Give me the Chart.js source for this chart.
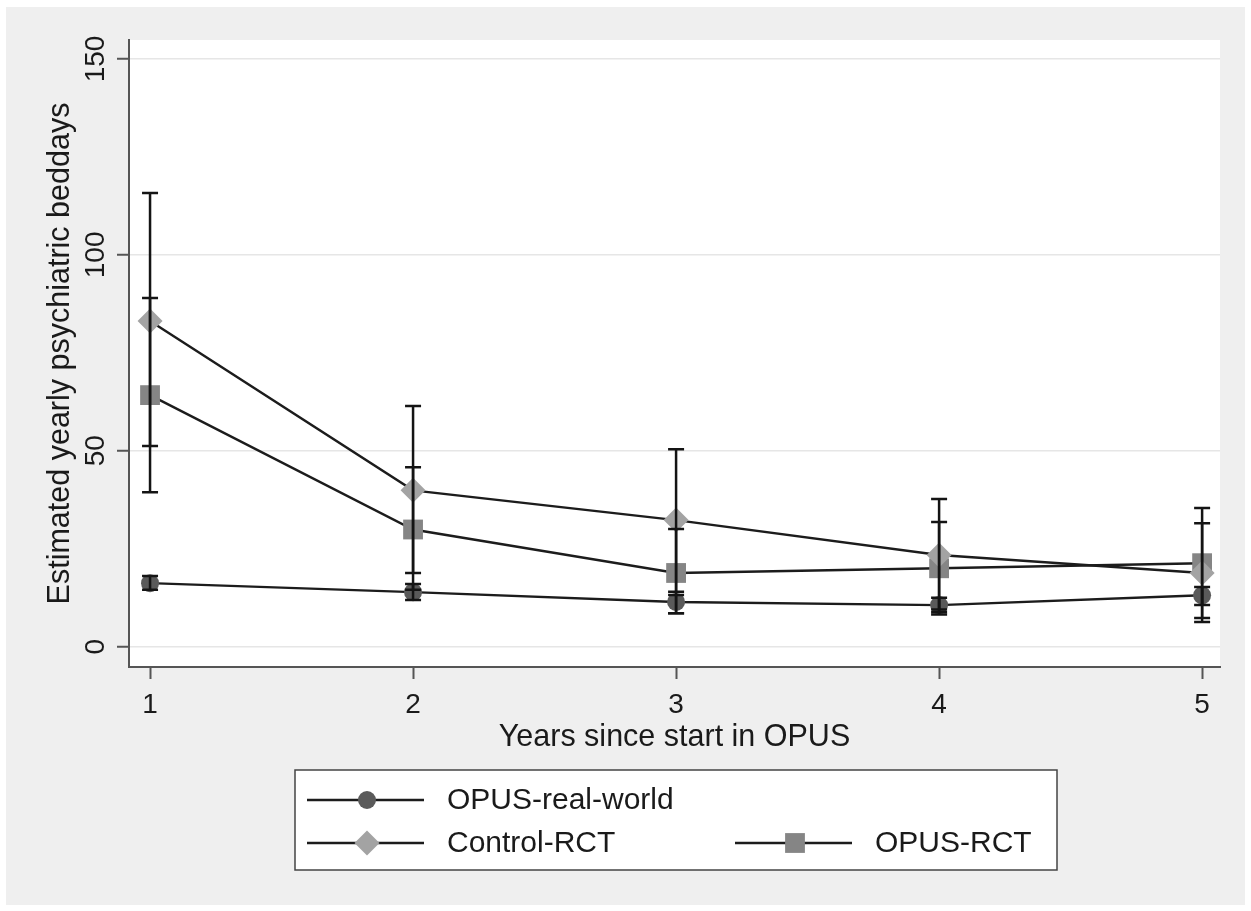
<!DOCTYPE html>
<html>
<head>
<meta charset="utf-8">
<title>Estimated yearly psychiatric beddays</title>
<script src="https://cdn.jsdelivr.net/npm/chart.js@4.4.1/dist/chart.umd.min.js"></script>
<style>
  html, body { margin: 0; padding: 0; background: #ffffff; }
  #wrap { position: absolute; left: 6px; top: 7px; width: 1239px; height: 898px; background: #efefef; }
</style>
</head>
<body>
<div id="wrap"><canvas id="chart" width="1239" height="898"></canvas></div>
<script>
// === Data ===
const years = [1, 2, 3, 4, 5];
const yTicks = [0, 50, 100, 150];

const realWorld = [16.2, 13.9, 11.4, 10.6, 13.1];
const realWorldLow = [14.5, 11.9, 8.5, 8.8, 10.6];
const realWorldHigh = [18.0, 16.0, 13.2, 12.5, 15.2];

const controlRct = [83.1, 39.9, 32.3, 23.4, 18.8];
const controlLow = [51.2, 18.8, 14.0, 9.5, 6.3];
const controlHigh = [115.8, 61.4, 50.4, 37.7, 31.5];

const opusRct = [64.2, 29.9, 18.8, 20.0, 21.3];
const opusLow = [39.4, 14.5, 8.5, 8.2, 7.3];
const opusHigh = [89.0, 45.8, 30.0, 31.8, 35.4];

const FONT = "'Liberation Sans', Arial, sans-serif";
const INK = "#1a1a1a";

const pts = (vals) => years.map((x, i) => ({ x, y: vals[i] }));

// === Plugins ===
const plotBg = {
  id: "plotBg",
  beforeDraw(chart) {
    const { ctx, chartArea: a } = chart;
    ctx.save();
    ctx.fillStyle = "#ffffff";
    ctx.fillRect(a.left, a.top, a.right - a.left, a.bottom - a.top);
    ctx.restore();
  }
};

// y tick labels are vertical in the original, so draw them here
const yLabels = {
  id: "yLabels",
  afterDraw(chart) {
    const { ctx } = chart;
    const y = chart.scales.y;
    ctx.save();
    ctx.fillStyle = INK;
    ctx.font = "28px " + FONT;
    ctx.textAlign = "center";
    ctx.textBaseline = "middle";
    yTicks.forEach((v) => {
      ctx.save();
      ctx.translate(90, y.getPixelForValue(v));
      ctx.rotate(-Math.PI / 2);
      ctx.fillText(String(v), 0, 0);
      ctx.restore();
    });
    ctx.restore();
  }
};

const errorBars = {
  id: "errorBars",
  afterDatasetsDraw(chart) {
    const { ctx } = chart;
    const xs = chart.scales.x, ys = chart.scales.y;
    ctx.save();
    ctx.strokeStyle = "#141414";
    ctx.lineWidth = 2.5;
    chart.data.datasets.forEach((ds) => {
      ds.low.forEach((lo, i) => {
        const px = xs.getPixelForValue(years[i]);
        const p1 = ys.getPixelForValue(lo);
        const p2 = ys.getPixelForValue(ds.high[i]);
        ctx.beginPath();
        ctx.moveTo(px, p1); ctx.lineTo(px, p2);
        ctx.moveTo(px - 8, p1); ctx.lineTo(px + 8, p1);
        ctx.moveTo(px - 8, p2); ctx.lineTo(px + 8, p2);
        ctx.stroke();
      });
    });
    ctx.restore();
  }
};

// legend box laid out like the Stata one (2 columns)
const boxLegend = {
  id: "boxLegend",
  afterDraw(chart) {
    const { ctx } = chart;
    ctx.save();
    ctx.fillStyle = "#ffffff";
    ctx.fillRect(289, 763, 762, 100);
    ctx.strokeStyle = "#444444";
    ctx.lineWidth = 1.5;
    ctx.strokeRect(289, 763, 762, 100);
    const slots = [
      { x: 301, y: 793 },
      { x: 301, y: 836 },
      { x: 729, y: 836 }
    ];
    chart.data.datasets.forEach((ds, i) => {
      const s = slots[i];
      ctx.strokeStyle = ds.borderColor;
      ctx.lineWidth = 2.5;
      ctx.beginPath();
      ctx.moveTo(s.x, s.y); ctx.lineTo(s.x + 117, s.y);
      ctx.stroke();
      ctx.fillStyle = ds.pointBackgroundColor;
      Chart.helpers.drawPoint(ctx, {
        pointStyle: ds.pointStyle, radius: ds.pointRadius, borderWidth: 0, rotation: 0
      }, s.x + 60, s.y);
      ctx.fillStyle = INK;
      ctx.font = "30px " + FONT;
      ctx.textAlign = "left";
      ctx.textBaseline = "middle";
      ctx.fillText(ds.label, s.x + 140, s.y + 1);
    });
    ctx.restore();
  }
};

// === Chart ===
const ctx = document.getElementById("chart").getContext("2d");
new Chart(ctx, {
  type: "line",
  data: {
    datasets: [
      {
        label: "OPUS-real-world", data: pts(realWorld), low: realWorldLow, high: realWorldHigh,
        borderColor: "#1c1c1c", borderWidth: 2.4, pointStyle: "circle", pointRadius: 9,
        pointBackgroundColor: "#5a5a5a", pointBorderColor: "#5a5a5a", pointBorderWidth: 0
      },
      {
        label: "Control-RCT", data: pts(controlRct), low: controlLow, high: controlHigh,
        borderColor: "#1c1c1c", borderWidth: 2.4, pointStyle: "rectRot", pointRadius: 12.5,
        pointBackgroundColor: "#a3a3a3", pointBorderColor: "#a3a3a3", pointBorderWidth: 0
      },
      {
        label: "OPUS-RCT", data: pts(opusRct), low: opusLow, high: opusHigh,
        borderColor: "#1c1c1c", borderWidth: 2.4, pointStyle: "rect", pointRadius: 14,
        pointBackgroundColor: "#858585", pointBorderColor: "#858585", pointBorderWidth: 0
      }
    ]
  },
  options: {
    responsive: false,
    animation: false,
    events: [],
    layout: { padding: { left: 0, right: 25, top: 33, bottom: 148.7 } },
    plugins: { legend: { display: false }, tooltip: { enabled: false } },
    scales: {
      x: {
        type: "linear",
        min: 0.92, max: 5.068,
        afterBuildTicks: (s) => { s.ticks = years.map((v) => ({ value: v })); },
        afterFit: (s) => { s.height = 89.3; },
        ticks: { color: INK, font: { family: FONT, size: 28 }, padding: 9, maxRotation: 0 },
        grid: { drawOnChartArea: false, tickLength: 12, tickColor: "#555555", tickWidth: 2 },
        border: { color: "#555555", width: 2 },
        title: {
          display: true, text: "Years since start in OPUS", color: INK,
          font: { family: FONT, size: 30.5 }, padding: { top: 0, bottom: 0 }
        }
      },
      y: {
        min: -5.2, max: 154.85,
        afterBuildTicks: (s) => { s.ticks = yTicks.map((v) => ({ value: v })); },
        afterFit: (s) => { s.width = 123; },
        ticks: { display: false },
        grid: { color: "#e6e6e6", lineWidth: 1.5, tickLength: 12, tickColor: "#555555", tickWidth: 2 },
        border: { color: "#555555", width: 2 },
        title: {
          display: true, text: "Estimated yearly psychiatric beddays", color: INK,
          font: { family: FONT, size: 30.5 }, padding: { top: 36.7, bottom: 0 }
        }
      }
    }
  },
  plugins: [plotBg, yLabels, errorBars, boxLegend]
});
</script>
</body>
</html>
